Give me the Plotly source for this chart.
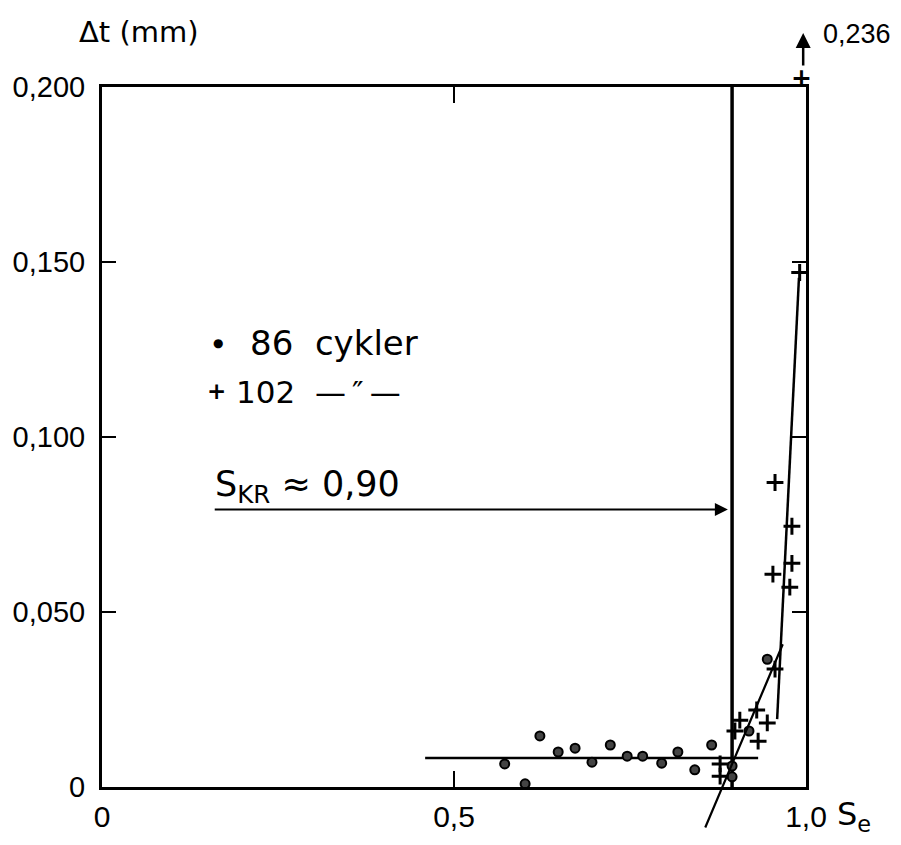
import plotly.graph_objects as go

# ---- data ----
# 86 cycles (dots)
s86 = [0.572, 0.601, 0.622, 0.648, 0.672, 0.696, 0.722, 0.746, 0.768, 0.795,
       0.818, 0.842, 0.866, 0.895, 0.895, 0.919, 0.945]
dt86 = [0.0066, 0.0009, 0.0146, 0.0100, 0.0111, 0.0071, 0.0120, 0.0088, 0.0088, 0.0068,
        0.0100, 0.0049, 0.0120, 0.0029, 0.0060, 0.0160, 0.0365]
# 102 cycles (plus)
s102 = [0.878, 0.878, 0.899, 0.906, 0.930, 0.932, 0.945, 0.956, 0.953, 0.977,
        0.980, 0.980, 0.956, 0.991]
dt102 = [0.0066, 0.0031, 0.0160, 0.0191, 0.0220, 0.0131, 0.0183, 0.0337, 0.0608, 0.0571,
         0.0639, 0.0745, 0.0870, 0.147]
# off-scale point (value 0.236), marked just above the frame
s_off = [0.994]
dt_off_value = [0.236]
Y_MAX = 0.200

# fitted lines
fit86_x = [0.459, 0.932]
fit86_y = [0.0083, 0.0083]
fit102_x = [0.959, 0.990]
fit102_y = [0.0194, 0.1455]
slant_x = [0.856, 0.967]
slant_y = [-0.012, 0.0408]
s_kr = 0.895
arrow_y = 0.0793
arrow_x0 = 0.158

x_tickvals = [0, 0.5, 1.0]
x_ticktext = ["0", "0,5", "1,0"]
y_tickvals = [0, 0.05, 0.10, 0.15, 0.20]
y_ticktext = ["0", "0,050", "0,100", "0,150", "0,200"]

HAND = "DejaVu Sans, Liberation Sans, sans-serif"
TICKF = "Liberation Sans, Arial, sans-serif"

fig = go.Figure()

# critical vertical line
fig.add_trace(go.Scatter(x=[s_kr, s_kr], y=[0, Y_MAX], mode="lines",
                         line=dict(color="black", width=3.5), hoverinfo="skip"))
# fit lines
fig.add_trace(go.Scatter(x=fit86_x, y=fit86_y, mode="lines",
                         line=dict(color="black", width=2.5), hoverinfo="skip"))
fig.add_trace(go.Scatter(x=fit102_x, y=fit102_y, mode="lines",
                         line=dict(color="black", width=2.5), hoverinfo="skip"))

# points
fig.add_trace(go.Scatter(x=s86, y=dt86, mode="markers", name="86 cykler",
                         marker=dict(symbol="circle", size=9, color="#444",
                                     line=dict(color="black", width=2))))
fig.add_trace(go.Scatter(x=s102, y=dt102, mode="markers", name="102",
                         marker=dict(symbol="cross-thin", size=12,
                                     line=dict(color="black", width=3))))

annotations = [
    # slanted line (extends below the axis)
    dict(x=slant_x[1], y=slant_y[1], ax=slant_x[0], ay=slant_y[0],
         xref="x", yref="y", axref="x", ayref="y", text="", showarrow=True,
         arrowhead=0, arrowwidth=2.2, arrowcolor="black", standoff=0, startstandoff=0),
    # S_KR arrow
    dict(x=s_kr - 0.006, y=arrow_y, ax=arrow_x0, ay=arrow_y,
         xref="x", yref="y", axref="x", ayref="y", text="", showarrow=True,
         arrowhead=2, arrowsize=1.3, arrowwidth=2, arrowcolor="black",
         standoff=0, startstandoff=0),
    dict(x=arrow_x0, y=arrow_y, xref="x", yref="y", xanchor="left", yanchor="bottom",
         showarrow=False, yshift=-2,
         text="S<sub>KR</sub> ≈ 0,90", font=dict(family=HAND, size=35, color="black")),
    # legend texts
    dict(x=0.165, y=0.634, xref="paper", yref="paper", xanchor="center", yanchor="middle",
         text="●", showarrow=False, font=dict(family=HAND, size=12, color="black")),
    dict(x=0.207, y=0.634, xref="paper", yref="paper", xanchor="left", yanchor="middle",
         text="86  cykler", showarrow=False, font=dict(family=HAND, size=34, color="black")),
    dict(x=0.162, y=0.566, xref="paper", yref="paper", xanchor="center", yanchor="middle",
         text="<b>+</b>", showarrow=False, font=dict(family=HAND, size=23, color="black")),
    dict(x=0.187, y=0.564, xref="paper", yref="paper", xanchor="left", yanchor="middle",
         text="102  —\u2009\u2033\u2009—", showarrow=False,
         font=dict(family=HAND, size=31, color="black")),
    # axis titles
    dict(x=0.052, y=1.079, xref="paper", yref="paper", xanchor="center", yanchor="middle",
         text="Δt (mm)", showarrow=False, font=dict(family=HAND, size=29, color="black")),
    dict(x=1.068, y=-0.042, xref="paper", yref="paper", xanchor="center", yanchor="middle",
         text="S<sub>e</sub>", showarrow=False,
         font=dict(family=HAND, size=32, color="black")),
    # off-scale point marker (+) just above the frame
    dict(x=s_off[0], y=1.013, xref="x", yref="paper", xanchor="center", yanchor="middle",
         text="<b>+</b>", showarrow=False, font=dict(family=HAND, size=25, color="black")),
    # off-scale indicator arrow
    dict(x=s_off[0] + 0.002, y=1.077, xref="x", yref="paper", ax=0, ay=34, ayref="pixel",
         text="", showarrow=True, arrowhead=2, arrowsize=1.2, arrowwidth=2.5,
         arrowcolor="black", standoff=0, startstandoff=0),
    dict(x=1.022, y=1.076, xref="paper", yref="paper", xanchor="left", yanchor="middle",
         text=str(dt_off_value[0]).replace(".", ","), showarrow=False,
         font=dict(family=TICKF, size=27, color="black")),
]

# page body has an 8px margin: shrink figure and shift plot area so that the
# frame lands where the reference has it
fig.update_layout(
    width=893, height=837,
    margin=dict(l=94, r=95, t=79, b=58),
    paper_bgcolor="white", plot_bgcolor="white",
    showlegend=False,
    annotations=annotations,
    xaxis=dict(range=[0, 1.0], tickvals=x_tickvals, ticktext=x_ticktext,
               automargin=False,
               showgrid=False, zeroline=False, showline=True, mirror="ticks",
               linecolor="black", linewidth=3, ticks="inside", ticklen=16,
               tickwidth=2, tickcolor="black", ticklabelstandoff=1,
               tickfont=dict(family=TICKF, size=30, color="black")),
    yaxis=dict(range=[0, Y_MAX], tickvals=y_tickvals, ticktext=y_ticktext,
               automargin=False,
               showgrid=False, zeroline=False, showline=True, mirror="ticks",
               linecolor="black", linewidth=3, ticks="inside", ticklen=14,
               tickwidth=2, tickcolor="black", ticklabelstandoff=8,
               tickfont=dict(family=TICKF, size=29, color="black")),
)

fig.write_html("out.html")
